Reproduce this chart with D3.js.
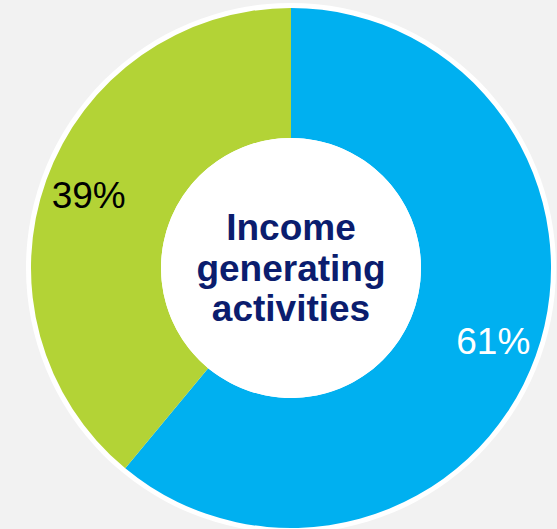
<!DOCTYPE html>
<html>
<head>
<meta charset="utf-8">
<script src="https://cdn.jsdelivr.net/npm/d3@7"></script>
<style>
  html, body { margin: 0; padding: 0; background: #f2f2f2; }
  svg { display: block; }
</style>
</head>
<body>
<svg id="chart" width="557" height="529"></svg>
<script>
// Share of activities
const categories = ["Income generating activities", "Other activities"];
const values = [61, 39];
const labels = ["61%", "39%"];
const colors = ["#00b0f0", "#b3d336"];
const labelColors = ["#ffffff", "#000000"];
const centerLines = ["Income", "generating", "activities"];

const width = 557, height = 529;
const cx = 291, cy = 268;
const outerR = 260, innerR = 130;

const svg = d3.select("#chart");
svg.append("rect").attr("width", width).attr("height", height).attr("fill", "#f2f2f2");

const g = svg.append("g").attr("transform", `translate(${cx},${cy})`);

// white rim around the ring
g.append("circle").attr("r", outerR + 5).attr("fill", "#ffffff");

const pie = d3.pie().sort(null).value(d => d);
const arcs = pie(values);
const arc = d3.arc().innerRadius(innerR).outerRadius(outerR);
const labelArc = d3.arc().innerRadius(215).outerRadius(215);

g.selectAll("path.slice")
  .data(arcs)
  .join("path")
  .attr("class", "slice")
  .attr("d", arc)
  .attr("fill", (d, i) => colors[i]);

// hole
g.append("circle").attr("r", innerR).attr("fill", "#ffffff");

g.selectAll("text.pct")
  .data(arcs)
  .join("text")
  .attr("class", "pct")
  .attr("transform", d => `translate(${labelArc.centroid(d)})`)
  .attr("text-anchor", "middle")
  .attr("dy", "0.36em")
  .attr("font-family", "Liberation Sans, Arial, sans-serif")
  .attr("font-size", 37)
  .attr("fill", (d, i) => labelColors[i])
  .text((d, i) => labels[i]);

const center = g.append("text")
  .attr("text-anchor", "middle")
  .attr("font-family", "Liberation Sans, Arial, sans-serif")
  .attr("font-weight", "bold")
  .attr("font-size", 37)
  .attr("fill", "#0b1d6e");
centerLines.forEach((t, i) => {
  center.append("tspan").attr("x", 0).attr("y", -28 + i * 40.5).text(t);
});
</script>
</body>
</html>
